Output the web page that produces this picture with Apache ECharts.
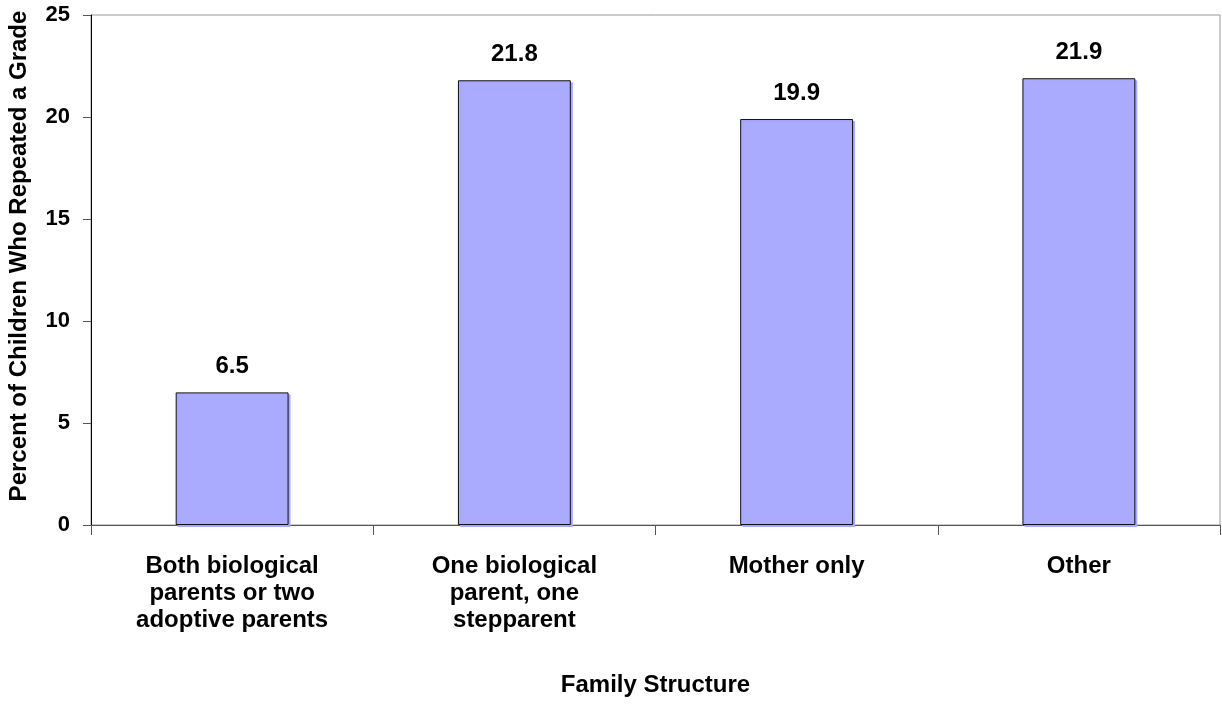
<!DOCTYPE html>
<html>
<head>
<meta charset="utf-8">
<script src="https://cdn.jsdelivr.net/npm/echarts@6/dist/echarts.min.js"></script>
<style>html,body{margin:0;padding:0;background:#fff}#c{width:1222px;height:727px}</style>
</head>
<body>
<div id="c"></div>
<script>
const categories = ["Both biological\nparents or two\nadoptive parents", "One biological\nparent, one\nstepparent", "Mother only", "Other"];
const values = [6.5, 21.8, 19.9, 21.9];
const yTicks = [0, 5, 10, 15, 20, 25];
const xTitle = "Family Structure";
const yTitle = "Percent of Children Who Repeated a Grade";

const chart = echarts.init(document.getElementById('c'), null, {renderer: 'canvas'});
const font = '"Liberation Sans", Arial, sans-serif';
chart.setOption({
  animation: false,
  grid: {left: 91, right: 2, top: 15, bottom: 202, show: true, borderColor: '#999', borderWidth: 1, backgroundColor: 'transparent', outerBoundsMode: 'none', containLabel: false},
  xAxis: {
    type: 'category',
    data: categories,
    name: xTitle,
    nameLocation: 'middle',
    nameGap: 148,
    nameTextStyle: {fontFamily: font, fontWeight: 'bold', fontSize: 24, color: '#000'},
    axisLine: {lineStyle: {color: '#555', width: 1}},
    axisTick: {show: true, length: 10, alignWithLabel: false, lineStyle: {color: '#555'}},
    axisLabel: {interval: 0, margin: 28, fontFamily: font, fontWeight: 'bold', fontSize: 24, lineHeight: 27, color: '#000'},
    splitLine: {show: false}
  },
  yAxis: {
    type: 'value',
    min: yTicks[0],
    max: yTicks[yTicks.length - 1],
    interval: 5,
    name: yTitle,
    nameLocation: 'middle',
    nameGap: 60,
    nameTextStyle: {fontFamily: font, fontWeight: 'bold', fontSize: 24, color: '#000', padding: [0, 0, 0, 28]},
    axisLine: {show: true, lineStyle: {color: '#000', width: 1}},
    axisTick: {show: true, length: 8, lineStyle: {color: '#555'}},
    axisLabel: {margin: 21, fontFamily: font, fontWeight: 'bold', fontSize: 22, color: '#000'},
    splitLine: {show: false}
  },
  series: [{
    type: 'bar',
    data: values,
    barWidth: '40%',
    itemStyle: {color: '#AAAAFF', borderColor: '#111', borderWidth: 1, shadowColor: '#a8a8ff', shadowOffsetX: 2, shadowOffsetY: 2, shadowBlur: 0},
    label: {show: true, position: 'top', distance: 14, fontFamily: font, fontWeight: 'bold', fontSize: 24, color: '#000', formatter: p => p.value.toFixed(1)}
  }]
});
</script>
</body>
</html>
